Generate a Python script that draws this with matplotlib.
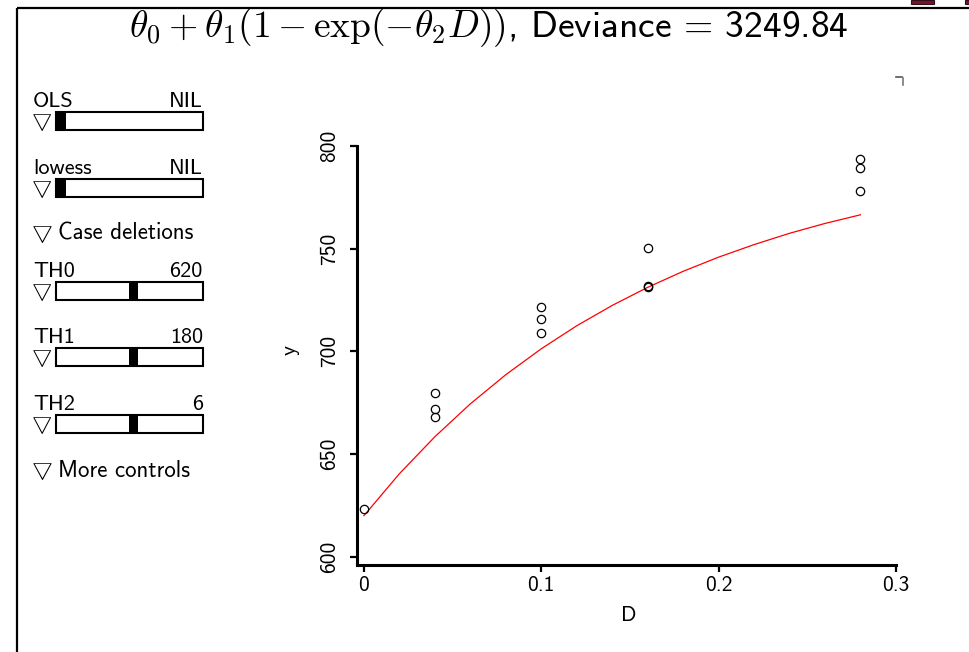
import matplotlib
matplotlib.use('Agg')
from matplotlib import pyplot as plt
from matplotlib.patches import Rectangle

d_obs = [0.0, 0.04, 0.04, 0.04, 0.10, 0.10, 0.10, 0.16, 0.16, 0.16, 0.28, 0.28, 0.28]
y_obs = [623.1, 679.5, 671.9, 667.8, 721.4, 715.5, 708.7, 750.1, 731.9, 731.2, 793.4, 789.3, 778.0]

# red fitted curve, read at steps of 0.02
d_fit = [0.0, 0.02, 0.04, 0.06, 0.08, 0.10, 0.12, 0.14, 0.16, 0.18, 0.20, 0.22, 0.24, 0.26, 0.28]
y_fit = [620.0, 640.4, 658.4, 674.4, 688.6, 701.2, 712.4, 722.3, 731.1, 738.9, 745.8, 751.9, 757.4, 762.2, 766.4]

xticks = [0, 0.1, 0.2, 0.3]
xticklabels = ['0', '0.1', '0.2', '0.3']
yticks = [600, 650, 700, 750, 800]
yticklabels = ['600', '650', '700', '750', '800']

title = r'$\theta_0+\theta_1(1-\exp(-\theta_2 D))$, Deviance = 3249.84'

# sliders in the left panel
slider_names = ['OLS', 'lowess', 'TH0', 'TH1', 'TH2']
slider_values = ['NIL', 'NIL', '620', '180', '6']
slider_top = [112, 179, 282, 348, 415]
slider_knob = [0, 0, 0.5, 0.5, 0.5]

plt.rcParams['font.family'] = 'cmss10'
plt.rcParams['mathtext.fontset'] = 'cm'
plt.rcParams['axes.unicode_minus'] = False

fig = plt.figure(figsize=(9.7, 6.52), dpi=100)

# pixel canvas for the window frame and the control panel
bg = fig.add_axes([0, 0, 1, 1])
bg.set_xlim(0, 970)
bg.set_ylim(652, 0)
bg.axis('off')

bg.plot([17, 17], [652, 8], 'k-', lw=1.6, solid_capstyle='butt')
bg.plot([17, 970], [8, 8], 'k-', lw=1.6, solid_capstyle='butt')
bg.add_patch(Rectangle((911, 0), 23, 3.5, fc='#7a1030', ec='#301018', lw=0.8))
bg.add_patch(Rectangle((965, 0), 6, 3.5, fc='#7a1030', ec='#301018', lw=0.8))
bg.plot([896, 902], [77, 77], color='#555555', lw=1.2)
bg.plot([903, 903], [78, 85], color='#777777', lw=1.2)

bg.text(489, 28, title, fontsize=27, ha='center', va='center')

tri = r'$\bigtriangledown$'
for name, val, top, knob in zip(slider_names, slider_values, slider_top, slider_knob):
	bg.text(33, top - 5, name, fontsize=16, ha='left', va='baseline')
	bg.text(203, top - 5, val, fontsize=16, ha='right', va='baseline')
	bg.text(31, top + 10, tri, fontsize=16.5, ha='left', va='center')
	bg.add_patch(Rectangle((56, top), 147, 18, fc='white', ec='black', lw=1.5))
	kx = 56 + knob * 147
	bg.add_patch(Rectangle((kx, top), 10 if knob == 0 else 9, 18, fc='black', ec='black', lw=0))

bg.text(31, 234, tri, fontsize=17, ha='left', va='center')
bg.text(58, 234, 'Case deletions', fontsize=16.5, ha='left', va='center')
bg.text(31, 471, tri, fontsize=17, ha='left', va='center')
bg.text(58, 471, 'More controls', fontsize=16.5, ha='left', va='center')

# main scatter plot
ax = fig.add_axes([357 / 970, 1 - 565 / 652, 543 / 970, 425 / 652])
ax.patch.set_alpha(0)
ax.plot(d_fit, y_fit, '-', color='red', lw=0.9)
ax.plot(d_obs, y_obs, 'o', mfc='none', mec='black', ms=6, mew=0.9)

ax.set_xlim(-0.0039, 0.3023)
ax.set_ylim(596, 802.8)
for s in ['top', 'right']:
	ax.spines[s].set_visible(False)
ax.spines['left'].set_linewidth(2.2)
ax.spines['bottom'].set_linewidth(2.2)
ax.spines['left'].set_bounds(596, 800)
ax.spines['bottom'].set_bounds(-0.0039, 0.3)

ax.set_xticks(xticks)
ax.set_xticklabels(xticklabels, fontsize=15.5)
ax.set_yticks(yticks)
ax.set_yticklabels(yticklabels, fontsize=15.5, rotation=90, va='center')
ax.tick_params(axis='both', length=5, width=1.6, direction='out')
ax.tick_params(axis='x', pad=3)
ax.tick_params(axis='y', pad=8)

ax.set_xlabel('D', fontsize=15.5)
ax.set_ylabel('y', fontsize=15.5)
ax.xaxis.set_label_coords(0.501, -0.097)
ax.yaxis.set_label_coords(-0.105, 0.506)

plt.savefig('out.png', dpi=100)
